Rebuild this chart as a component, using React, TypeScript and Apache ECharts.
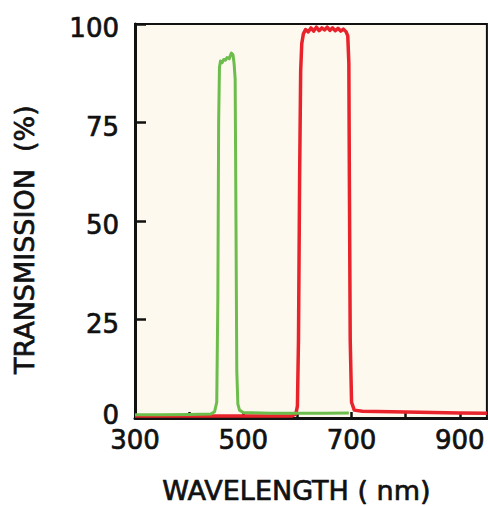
import React, { useEffect, useRef } from "react";
import * as echarts from "echarts";

// Wavelength (nm) / transmission (%) pairs
const greenWavelength = [300, 350, 400, 440, 447, 451, 453, 454.5, 456, 458, 461, 464, 467, 470, 474, 478, 481, 483, 485, 486.5, 488, 490, 493, 500, 550, 600, 650, 695];
const greenTransmission = [0.8, 0.8, 0.9, 1.0, 1.6, 4, 30, 75, 89, 90.6, 90.2, 91.0, 90.8, 91.5, 91.2, 92.6, 92.2, 90, 86, 50, 12, 3.5, 2, 1.4, 1.2, 1.2, 1.2, 1.3];

const redWavelength = [300, 590, 597, 600, 602, 604, 606, 608, 611, 615, 620, 625, 630, 635, 640, 645, 650, 655, 660, 665, 670, 675, 680, 685, 690, 693, 695, 696, 697.5, 700, 705, 720, 800, 900, 950];
const redTransmission = [0.5, 0.5, 1, 3, 20, 60, 88, 95, 97.5, 98.6, 98.0, 99.0, 98.2, 99.2, 98.3, 99.0, 98.5, 99.2, 98.4, 99.0, 98.3, 98.9, 98.2, 98.7, 98.0, 97, 90, 60, 20, 4, 2.0, 1.7, 1.5, 1.3, 1.2];

const xLabelValues = [300, 500, 700, 900];
const yTicks = [0, 25, 50, 75, 100];

const xName = "WAVELENGTH ( nm)";
const yName = "TRANSMISSION  (%)";

const pairs = (xs: number[], ys: number[]) => xs.map((x, i) => [x, ys[i]]);

export default function App() {
  const ref = useRef<HTMLDivElement>(null);
  useEffect(() => {
    if (!ref.current) return;
    const chart = echarts.init(ref.current, null, { renderer: "svg" });
    const font = "DejaVu Sans";
    const ink = "#111";
    const heavy = { textBorderColor: ink, textBorderWidth: 0.7 };
    chart.setOption({
      animation: false,
      backgroundColor: "#ffffff",
      grid: {
        left: 135,
        right: 1,
        top: 24,
        bottom: 88,
        show: true,
        backgroundColor: "#fdf9ef",
        borderColor: ink,
        borderWidth: 2,
      },
      xAxis: {
        type: "value",
        min: 300,
        max: 950,
        interval: 100,
        axisLine: { show: true, onZero: false, lineStyle: { color: ink, width: 3 } },
        axisTick: { show: true, inside: true, length: 6, lineStyle: { color: ink, width: 2.5 } },
        splitLine: { show: false },
        axisLabel: {
          margin: 12,
          fontFamily: font,
          fontSize: 26,
          lineHeight: 20,
          color: ink,
          ...heavy,
          showMaxLabel: false,
          formatter: (v: number) => (xLabelValues.includes(v) ? String(v) : ""),
        },
      },
      yAxis: {
        type: "value",
        min: yTicks[0],
        max: yTicks[yTicks.length - 1],
        interval: 25,
        axisLine: { show: true, lineStyle: { color: ink, width: 3 } },
        axisTick: { show: true, inside: true, length: 11, lineStyle: { color: ink, width: 2.5 } },
        splitLine: { show: false },
        axisLabel: {
          margin: 16,
          color: ink,
          formatter: (v: number) => (v === 0 ? "{z|0}" : "{n|" + v + "}"),
          rich: {
            z: { fontFamily: font, fontSize: 26, lineHeight: 20, color: ink, ...heavy, padding: [0, 0, 6, 0] },
            n: { fontFamily: font, fontSize: 26, lineHeight: 20, color: ink, ...heavy, padding: [8, 0, 0, 0] },
          },
        },
      },
      series: [
        {
          type: "line",
          data: pairs(redWavelength, redTransmission),
          showSymbol: false,
          symbol: "none",
          lineStyle: { color: "#e8232b", width: 3.5, join: "round" },
          z: 2,
        },
        {
          type: "line",
          data: pairs(greenWavelength, greenTransmission),
          showSymbol: false,
          symbol: "none",
          lineStyle: { color: "#6cbd4b", width: 3, join: "round" },
          z: 3,
        },
      ],
      graphic: [
        {
          type: "text",
          left: 162,
          top: 477,
          style: { text: xName, fontFamily: font, fontSize: 27, fill: ink, stroke: ink, lineWidth: 0.7 },
        },
        {
          type: "text",
          x: 11,
          y: 374,
          rotation: Math.PI / 2,
          style: { text: yName, fontFamily: font, fontSize: 27, fill: ink, stroke: ink, lineWidth: 0.7 },
        },
      ],
    });
    return () => chart.dispose();
  }, []);
  return (
    <div
      ref={ref}
      style={{ position: "fixed", left: 0, top: 0, width: 488, height: 506 }}
    />
  );
}
